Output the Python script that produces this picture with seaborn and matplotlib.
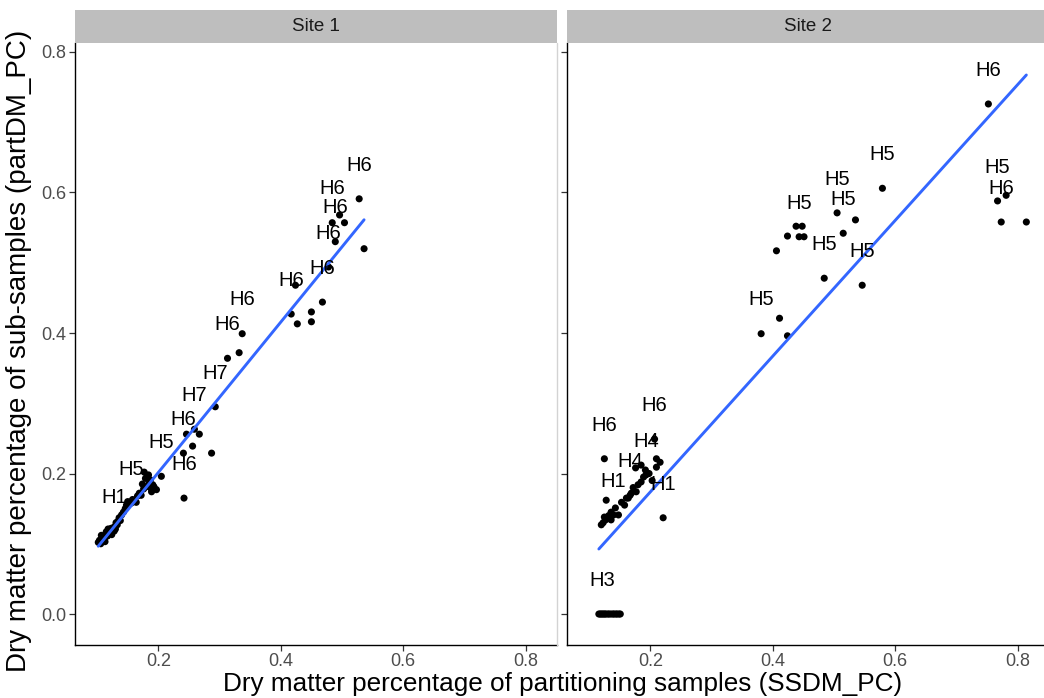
import numpy as np
import pandas as pd
import matplotlib
matplotlib.use("Agg")
import matplotlib.pyplot as plt
import seaborn as sns

# ---- data ----
site1_x = [0.102, 0.104, 0.106, 0.108, 0.110, 0.112, 0.114, 0.115, 0.117, 0.119,
           0.121, 0.123, 0.125, 0.128, 0.131, 0.133, 0.136, 0.138, 0.140, 0.143,
           0.146, 0.148, 0.153, 0.158, 0.164, 0.166, 0.169, 0.172, 0.176, 0.177,
           0.180, 0.182, 0.184, 0.185, 0.187, 0.189, 0.191, 0.193, 0.197,
           0.107, 0.113, 0.118, 0.124, 0.130, 0.134, 0.150, 0.174, 0.179, 0.188,
           0.128, 0.156, 0.205, 0.242, 0.241, 0.259, 0.293, 0.313, 0.337, 0.417,
           0.468, 0.478, 0.489, 0.484, 0.528,
           0.246, 0.267, 0.256, 0.287, 0.332, 0.424, 0.427, 0.450, 0.450, 0.536,
           0.496, 0.504]
site1_y = [0.102, 0.105, 0.100, 0.108, 0.110, 0.106, 0.113, 0.117, 0.111, 0.118,
           0.115, 0.122, 0.119, 0.124, 0.130, 0.127, 0.137, 0.133, 0.141, 0.145,
           0.150, 0.155, 0.159, 0.163, 0.159, 0.168, 0.172, 0.169, 0.178, 0.202,
           0.181, 0.196, 0.198, 0.186, 0.191, 0.174, 0.184, 0.181, 0.177,
           0.112, 0.103, 0.121, 0.113, 0.121, 0.132, 0.160, 0.185, 0.193, 0.179,
           0.118, 0.158, 0.196, 0.165, 0.229, 0.263, 0.295, 0.364, 0.399, 0.427,
           0.444, 0.494, 0.530, 0.557, 0.591,
           0.256, 0.256, 0.239, 0.229, 0.372, 0.468, 0.413, 0.430, 0.416, 0.520,
           0.568, 0.557]
site1_lab = [""] * 49 + ["H1", "H5", "H5", "H6", "H6", "H7", "H7", "H6", "H6", "H6",
                         "H6", "H6", "H6", "H6", "H6"] + [""] * 12

site2_x = [0.116, 0.122, 0.126, 0.131, 0.136, 0.141, 0.146, 0.151,
           0.118, 0.120, 0.124, 0.128, 0.133, 0.139, 0.144, 0.149,
           0.125, 0.207, 0.193, 0.167, 0.140, 0.221,
           0.210, 0.216, 0.210, 0.176, 0.185, 0.192, 0.189, 0.185, 0.180, 0.177,
           0.169, 0.164, 0.153, 0.128, 0.143, 0.136, 0.135, 0.131, 0.127, 0.123,
           0.120, 0.136, 0.148, 0.161, 0.198, 0.203, 0.172, 0.158, 0.132, 0.125,
           0.752, 0.579, 0.505, 0.515, 0.443, 0.484, 0.546, 0.381, 0.767, 0.773,
           0.535, 0.438, 0.448, 0.424, 0.451, 0.406, 0.411, 0.424, 0.781, 0.814]
site2_y = [0.0, 0.0, 0.0, 0.0, 0.0, 0.0, 0.0, 0.0,
           0.0, 0.0, 0.0, 0.0, 0.0, 0.0, 0.0, 0.0,
           0.221, 0.249, 0.198, 0.169, 0.141, 0.137,
           0.221, 0.216, 0.209, 0.208, 0.212, 0.205, 0.195, 0.188, 0.184, 0.174,
           0.172, 0.165, 0.159, 0.162, 0.151, 0.145, 0.141, 0.137, 0.134, 0.130,
           0.127, 0.134, 0.141, 0.165, 0.200, 0.190, 0.180, 0.155, 0.140, 0.138,
           0.726, 0.606, 0.571, 0.542, 0.537, 0.478, 0.468, 0.399, 0.588, 0.558,
           0.561, 0.552, 0.552, 0.538, 0.537, 0.517, 0.421, 0.396, 0.596, 0.558]
site2_lab = ["", "H3", "", "", "", "", "", "",
             "", "", "", "", "", "", "", "",
             "H6", "H6", "H4", "H4", "H1", "H1"] + [""] * 30 + \
            ["H6", "H5", "H5", "H5", "H5", "H5", "H5", "H5", "H5", "H6"] + [""] * 10

sites = ["Site 1", "Site 2"]

df = pd.concat([
    pd.DataFrame({"x": site1_x, "y": site1_y, "lab": site1_lab, "site": sites[0]}),
    pd.DataFrame({"x": site2_x, "y": site2_y, "lab": site2_lab, "site": sites[1]}),
])

sns.set_theme(style="ticks")
plt.rcParams["font.family"] = ["Liberation Sans", "DejaVu Sans"]

W, H = 1044, 698
fig = plt.figure(figsize=(W / 100, H / 100), dpi=100)

panel_left = [75, 567]
panel_w = 482
panel_top, panel_bot = 43, 645
strip_top = 10

for i, site in enumerate(sites):
    d = df[df["site"] == site]
    ax = fig.add_axes([panel_left[i] / W, (H - panel_bot) / H,
                       panel_w / W, (panel_bot - panel_top) / H])
    sns.scatterplot(data=d, x="x", y="y", ax=ax, color="black", s=26,
                    edgecolor="none", linewidth=0, zorder=3)
    sns.regplot(data=d, x="x", y="y", ax=ax, scatter=False, ci=None,
                color="#3366FF", line_kws={"lw": 2.1, "zorder": 4})
    for _, r in d[d["lab"] != ""].iterrows():
        ax.text(r["x"], r["y"] + 0.048, r["lab"], ha="center", va="center",
                fontsize=14.5, color="black", zorder=5)

    ax.set_xlim(0.064, 0.851)
    ax.set_ylim(-0.0441, 0.8128)
    ax.set_xticks([0.2, 0.4, 0.6, 0.8])
    ax.set_yticks([0.0, 0.2, 0.4, 0.6, 0.8])
    ax.set_xticklabels(["0.2", "0.4", "0.6", "0.8"])
    if i == 0:
        ax.set_yticklabels(["0.0", "0.2", "0.4", "0.6", "0.8"])
    else:
        ax.set_yticklabels([])
    ax.set_xlabel("")
    ax.set_ylabel("")
    ax.set_facecolor("white")
    sns.despine(ax=ax)
    for s in ["left", "bottom"]:
        ax.spines[s].set_color("black")
        ax.spines[s].set_linewidth(1.0)
    ax.tick_params(axis="both", length=4, width=0.9, color="#333333",
                   labelcolor="#4D4D4D", labelsize=13, pad=2)

    # strip on top of each panel
    sax = fig.add_axes([panel_left[i] / W, (H - panel_top) / H,
                        panel_w / W, (panel_top - strip_top) / H])
    sax.set_facecolor("#BEBEBE")
    sax.set_xticks([])
    sax.set_yticks([])
    for s in sax.spines.values():
        s.set_visible(False)
    sax.text(0.5, 0.5, site, ha="center", va="center", fontsize=13.5,
             color="#1A1A1A", transform=sax.transAxes)

# thin grey separator on the right side of the first panel
fig.add_artist(plt.Line2D([557 / W, 557 / W], [(H - panel_bot) / H, (H - panel_top) / H],
                          color="#D3D3D3", lw=1.0))

fig.text(563 / W, 1 - 684 / H, "Dry matter percentage of partitioning samples (SSDM_PC)",
         ha="center", va="center", fontsize=18.8, color="black")
fig.text(19 / W, 1 - 351 / H, "Dry matter percentage of sub-samples (partDM_PC)",
         ha="center", va="center", rotation=90, fontsize=20, color="black")

fig.savefig("out.png", dpi=100)
